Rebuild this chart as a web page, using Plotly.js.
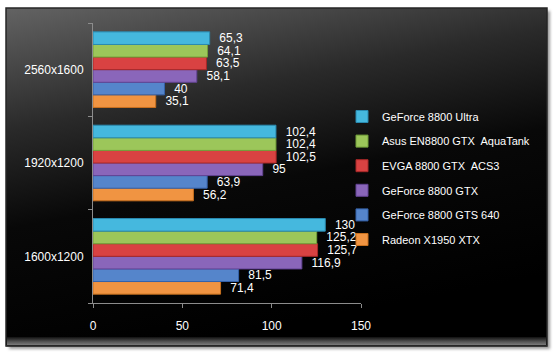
<!DOCTYPE html>
<html>
<head>
<meta charset="utf-8">
<script src="https://cdn.plot.ly/plotly-3.0.1.min.js"></script>
<style>html,body{margin:0;padding:0;background:#fff;}#chart{width:557px;height:356px;}</style>
</head>
<body>
<div id="chart"></div>
<script>
// Categories (top to bottom in the picture)
const categories = ['2560x1600', '1920x1200', '1600x1200'];
// Series (legend order, top to bottom)
const seriesNames = ['GeForce 8800 Ultra', 'Asus EN8800 GTX  AquaTank', 'EVGA 8800 GTX  ACS3', 'GeForce 8800 GTX', 'GeForce 8800 GTS 640', 'Radeon X1950 XTX'];
const ultra  = [65.3, 102.4, 130];
const asus   = [64.1, 102.4, 125.2];
const evga   = [63.5, 102.5, 125.7];
const gtx    = [58.1, 95, 116.9];
const gts640 = [40, 63.9, 81.5];
const radeon = [35.1, 56.2, 71.4];
const seriesValues = [ultra, asus, evga, gtx, gts640, radeon];
const xTicks = [0, 50, 100, 150];

const colors = ['#45b8de', '#9cc65a', '#d94242', '#8a66ba', '#5585cb', '#f09442'];
const lineColors = ['#2a8ab0', '#72a03a', '#a82828', '#634494', '#3562aa', '#c8701e'];

const W = 557, H = 356, L = 93, R = 8, T = 23, B = 53;
const plotRight = 361;
const pw = W - L - R, ph = H - T - B;

// traces drawn bottom-to-top inside each group => reverse the series order
const traces = [];
for (let i = seriesNames.length - 1; i >= 0; i--) {
  const vals = seriesValues[i];
  traces.push({
    type: 'bar',
    orientation: 'h',
    name: seriesNames[i],
    legendgroup: 'g' + i,
    legendrank: i + 1,
    y: categories,
    x: vals,
    text: vals.map(v => '  ' + String(v).replace('.', ',')),
    textposition: 'outside',
    textfont: {color: '#ffffff', size: 12, family: 'Liberation Sans'},
    constraintext: 'none',
    cliponaxis: false,
    marker: {color: colors[i], line: {color: lineColors[i], width: 1}},
    hoverinfo: 'skip'
  });
}

const bgSvg = `<svg xmlns="http://www.w3.org/2000/svg" width="${W}" height="${H}" viewBox="0 0 ${W} ${H}">
<defs>
<linearGradient id="bg" x1="0" y1="0" x2="0.3" y2="1">
<stop offset="0" stop-color="#636363"/>
<stop offset="0.33" stop-color="#2a2a2a"/>
<stop offset="0.6" stop-color="#080808"/>
<stop offset="1" stop-color="#000000"/>
</linearGradient>
<linearGradient id="bev" x1="0" y1="0" x2="0" y2="1">
<stop offset="0" stop-color="#111111"/>
<stop offset="0.6" stop-color="#555555"/>
<stop offset="1" stop-color="#7a7a7a"/>
</linearGradient>
<filter id="blur" x="-5%" y="-5%" width="110%" height="110%"><feGaussianBlur stdDeviation="1.5"/></filter>
</defs>
<rect x="9" y="11" width="541" height="338" fill="#9a9a9a" filter="url(#blur)"/>
<rect x="6" y="8" width="541" height="338" fill="url(#bg)" stroke="#262626" stroke-width="1.5"/>
<rect x="7" y="337" width="539" height="8" fill="url(#bev)"/>
<line x1="6" y1="346" x2="547" y2="346" stroke="#333333" stroke-width="1"/>
</svg>`;

const layout = {
  width: W, height: H,
  margin: {l: L, r: R, t: T, b: B, pad: 0, autoexpand: false},
  paper_bgcolor: '#ffffff',
  plot_bgcolor: 'rgba(0,0,0,0)',
  font: {family: 'Liberation Sans', size: 12, color: '#ffffff'},
  barmode: 'group',
  bargap: 0.19,
  bargroupgap: 0,
  showlegend: true,
  legend: {
    x: (342 - L) / pw, xanchor: 'left',
    y: 1 - (102 - T) / ph, yanchor: 'top',
    bgcolor: 'rgba(0,0,0,0)',
    font: {family: 'Liberation Sans', size: 11, color: '#ffffff'},
    traceorder: 'grouped',
    tracegroupgap: 5.6
  },
  xaxis: {
    domain: [0, (plotRight - L) / pw],
    range: [0, 150],
    tickvals: xTicks,
    ticktext: xTicks.map(String),
    ticks: 'outside', ticklen: 4, tickcolor: '#8c8c8c', tickwidth: 1,
    showline: true, linecolor: '#8c8c8c', linewidth: 1,
    showgrid: false, zeroline: false,
    ticklabelstandoff: 8,
    tickfont: {family: 'Liberation Sans', size: 12, color: '#ffffff'},
    fixedrange: true
  },
  yaxis: {
    type: 'category',
    categoryorder: 'array',
    categoryarray: categories.slice().reverse(),
    tickson: 'boundaries',
    ticks: 'outside', ticklen: 4, tickcolor: '#8c8c8c', tickwidth: 1,
    showline: true, linecolor: '#8c8c8c', linewidth: 1,
    showgrid: false, zeroline: false,
    ticklabelstandoff: 6,
    tickfont: {family: 'Liberation Sans', size: 12, color: '#ffffff'},
    fixedrange: true
  },
  images: [{
    source: 'data:image/svg+xml;charset=utf-8,' + encodeURIComponent(bgSvg),
    xref: 'paper', yref: 'paper',
    x: -L / pw, y: 1 + T / ph,
    sizex: W / pw, sizey: H / ph,
    xanchor: 'left', yanchor: 'top',
    sizing: 'stretch', layer: 'below'
  }]
};

Plotly.newPlot('chart', traces, layout, {displayModeBar: false, staticPlot: true});
</script>
</body>
</html>
